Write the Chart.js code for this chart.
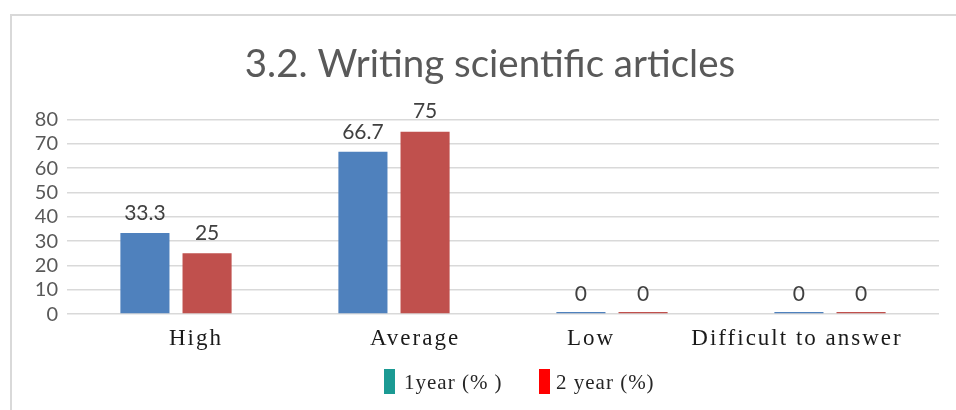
<!DOCTYPE html>
<html>
<head>
<meta charset="utf-8">
<script src="https://cdn.jsdelivr.net/npm/chart.js@4"></script>
<style>
  html, body { margin: 0; padding: 0; background: #fff; }
  #wrap { position: relative; width: 956px; height: 410px; overflow: hidden; }
  #frame { position: absolute; left: 10px; top: 14px; width: 1000px; height: 500px;
           border-top: 2px solid #d9d9d9; border-left: 2px solid #d9d9d9; }
  canvas { position: absolute; left: 0; top: 0; }
</style>
</head>
<body>
<div id="wrap">
  <div id="frame"></div>
  <canvas id="chart" width="956" height="410"></canvas>
</div>
<script>
const categories = ['High', 'Average', 'Low', 'Difficult to answer'];
const year1 = [33.3, 66.7, 0, 0];
const year2 = [25, 75, 0, 0];
const seriesNames = ['1year (% )', '2 year (%)'];
const legendColors = ['#1b9a93', '#ff0000'];
const yTicks = [0, 10, 20, 30, 40, 50, 60, 70, 80];
const chartTitle = '3.2. Writing scientific articles';

const serif = '"Liberation Serif", "Times New Roman", serif';
const sans = 'Lato, "Open Sans", sans-serif';
// the original's category labels sit a little off their bar groups
const labelShift = [19, 20, -22, -34];

// --- title, value labels, spaced category labels and legend ---
const extras = {
    id: 'extras',
    afterDraw(chart) {
        const ctx = chart.ctx;
        const x = chart.scales.x, y = chart.scales.y;
        ctx.save();

        ctx.font = '38.5px ' + sans;
        ctx.fillStyle = '#595959';
        ctx.textAlign = 'center';
        ctx.textBaseline = 'alphabetic';
        ctx.fillText(chartTitle, 490, 77);

        // values above the bars
        ctx.font = '21px ' + sans;
        ctx.fillStyle = '#404040';
        ctx.textBaseline = 'middle';
        chart.data.datasets.forEach((ds, i) => {
            chart.getDatasetMeta(i).data.forEach((bar, j) => {
                ctx.fillText(String(ds.data[j]), bar.x, y.getPixelForValue(ds.data[j]) - 20);
            });
        });

        // category labels (letter spaced, like the original)
        ctx.font = '23px ' + serif;
        ctx.fillStyle = '#1a1a1a';
        ctx.letterSpacing = '2px';
        categories.forEach((c, i) => {
            ctx.fillText(c, x.getPixelForTick(i) + labelShift[i] + 1, y.bottom + 25);
        });

        // legend
        ctx.letterSpacing = '1px';
        ctx.textAlign = 'left';
        ctx.font = '21px ' + serif;
        const items = [{ box: 384, text: 404 }, { box: 539, text: 556 }];
        items.forEach((it, i) => {
            ctx.fillStyle = legendColors[i];
            ctx.fillRect(it.box, 369, 11, 25);
            ctx.fillStyle = '#262626';
            ctx.fillText(seriesNames[i], it.text, 383);
        });
        ctx.restore();
    }
};

new Chart(document.getElementById('chart').getContext('2d'), {
    type: 'bar',
    data: {
        labels: categories,
        datasets: [
            {
                label: seriesNames[0],
                data: year1,
                backgroundColor: '#4f81bd',
                categoryPercentage: 0.57,
                barPercentage: 0.79,
                minBarLength: 2
            },
            {
                label: seriesNames[1],
                data: year2,
                backgroundColor: '#c0504d',
                categoryPercentage: 0.57,
                barPercentage: 0.79,
                minBarLength: 2
            }
        ]
    },
    options: {
        responsive: false,
        animation: false,
        layout: { padding: { left: 0, right: 17, top: 0, bottom: 45.5 } },
        plugins: {
            // kept for spacing only, drawn by the extras plugin
            title: {
                display: true,
                text: chartTitle,
                color: 'rgba(0,0,0,0)',
                font: { family: sans, size: 39, weight: 'normal' },
                padding: { top: 44.6, bottom: 28.1 }
            },
            legend: { display: false },
            tooltip: { enabled: false }
        },
        scales: {
            x: {
                grid: { display: false },
                border: { display: false },
                ticks: {
                    color: 'rgba(0,0,0,0)',
                    font: { family: serif, size: 22 },
                    padding: 8
                }
            },
            y: {
                min: 0,
                max: 80,
                afterFit: (scale) => { scale.width = 67; },
                afterBuildTicks: (scale) => { scale.ticks = yTicks.map(v => ({ value: v })); },
                grid: { color: '#d9d9d9', lineWidth: 1.5, drawTicks: false },
                border: { display: false },
                ticks: {
                    autoSkip: false,
                    color: '#595959',
                    font: { family: sans, size: 20 },
                    padding: 9
                }
            }
        }
    },
    plugins: [extras]
});
</script>
</body>
</html>
